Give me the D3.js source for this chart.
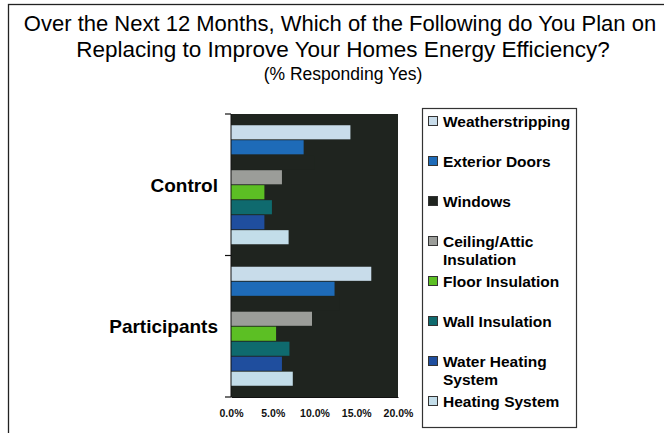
<!DOCTYPE html>
<html>
<head>
<meta charset="utf-8">
<script src="https://cdn.jsdelivr.net/npm/d3@7"></script>
<style>
body { margin: 0; background: #fff; }
text { font-family: "Liberation Sans", Arial, sans-serif; }
</style>
</head>
<body>
<script>
// Daten
var groups = ["Control", "Participants"];
var series = ["Weatherstripping", "Exterior Doors", "Windows", "Ceiling/Attic Insulation",
  "Floor Insulation", "Wall Insulation", "Water Heating System", "Heating System"];
var legendLines = [["Weatherstripping"], ["Exterior Doors"], ["Windows"], ["Ceiling/Attic", "Insulation"],
  ["Floor Insulation"], ["Wall Insulation"], ["Water Heating", "System"], ["Heating System"]];
var controlValues = [14.3, 8.7, 10.0, 6.1, 4.0, 4.9, 4.0, 6.9];
var participantValues = [16.8, 12.4, 13.0, 9.7, 5.4, 7.0, 6.1, 7.4];
var colors = ["#c8dcea", "#1e6bb8", "#1f241f", "#9b9d99", "#5cbf24", "#0f6a6e", "#1f4e9e", "#c3dde9"];
var xTicks = [0, 5, 10, 15, 20];

var W = 664, H = 433;
var plot = {left: 231, right: 398, top: 114, bottom: 397};

var svg = d3.select("body").append("svg")
  .attr("width", W).attr("height", H);

svg.append("rect").attr("width", W).attr("height", H).attr("fill", "#fff");

// Rahmen
svg.append("rect")
  .attr("x", 8.5).attr("y", 4.5).attr("width", 700).attr("height", 460)
  .attr("fill", "none").attr("stroke", "#222").attr("stroke-width", 1.3);

// Titel
var title = svg.append("g").attr("text-anchor", "middle");
title.append("text").attr("x", 340).attr("y", 31).attr("font-size", 22)
  .text("Over the Next 12 Months, Which of the Following do You Plan on");
title.append("text").attr("x", 343).attr("y", 57).attr("font-size", 22.5)
  .text("Replacing to Improve Your Homes Energy Efficiency?");
title.append("text").attr("x", 343).attr("y", 80).attr("font-size", 17.5)
  .text("(% Responding Yes)");

// Skalen
var xScale = d3.scaleLinear().domain([0, 20]).range([plot.left, plot.right]);
var yScale = d3.scaleBand().domain(groups).range([plot.top, plot.bottom]);
var ySub = d3.scaleBand().domain(series).range([0, yScale.bandwidth()])
  .paddingInner(0.06).paddingOuter(0.75);

// Hintergrund Plot
svg.append("rect")
  .attr("x", plot.left).attr("y", plot.top)
  .attr("width", plot.right - plot.left).attr("height", plot.bottom - plot.top)
  .attr("fill", "#1f241f");

var data = [];
groups.forEach(function (g, gi) {
  var vals = gi === 0 ? controlValues : participantValues;
  series.forEach(function (s, si) {
    data.push({group: g, series: s, value: vals[si], color: colors[si]});
  });
});

svg.append("g").selectAll("rect")
  .data(data).join("rect")
  .attr("x", xScale(0))
  .attr("y", function (d) { return yScale(d.group) + ySub(d.series); })
  .attr("width", function (d) { return xScale(d.value) - xScale(0); })
  .attr("height", ySub.bandwidth())
  .attr("fill", function (d) { return d.color; });

// Y Achse
var yAxis = svg.append("g").attr("transform", "translate(" + plot.left + ",0)");
yAxis.append("line").attr("x1", 0).attr("x2", 0).attr("y1", plot.top).attr("y2", plot.bottom)
  .attr("stroke", "#111");
var bounds = [plot.top].concat(groups.map(function (g) { return yScale(g) + yScale.bandwidth(); }));
yAxis.selectAll(".tk").data(bounds).join("line")
  .attr("x1", -6).attr("x2", 0)
  .attr("y1", function (d) { return d; }).attr("y2", function (d) { return d; })
  .attr("stroke", "#111").attr("stroke-width", 1.2);
yAxis.selectAll(".lbl").data(groups).join("text")
  .attr("x", -13)
  .attr("y", function (d) { return yScale(d) + yScale.bandwidth() / 2 + 7; })
  .attr("text-anchor", "end").attr("font-size", 19).attr("font-weight", "bold")
  .text(function (d) { return d; });

// X Achse
var xAxis = svg.append("g")
  .attr("transform", "translate(0," + plot.bottom + ")")
  .call(d3.axisBottom(xScale).tickValues(xTicks).tickSize(0).tickPadding(13)
    .tickFormat(function (d) { return d.toFixed(1) + "%"; }));
xAxis.select(".domain").attr("stroke", "#111");
xAxis.selectAll("text").attr("font-size", 10.5).attr("font-weight", "bold")
  .attr("font-family", "'Liberation Sans', Arial, sans-serif").attr("fill", "#111");

// Legende
var legend = svg.append("g");
legend.append("rect")
  .attr("x", 422.5).attr("y", 108.5).attr("width", 154).attr("height", 319)
  .attr("fill", "#fff").attr("stroke", "#333").attr("stroke-width", 1.2);
var item = legend.selectAll(".item").data(series).join("g")
  .attr("transform", function (d, i) { return "translate(428," + (121 + i * 40) + ")"; });
item.append("rect")
  .attr("x", 0.5).attr("y", -4.5).attr("width", 9).attr("height", 9)
  .attr("fill", function (d, i) { return colors[i]; })
  .attr("stroke", "#333").attr("stroke-width", 1);
item.append("text")
  .attr("x", 15).attr("y", 5.5)
  .attr("font-size", 15.5).attr("font-weight", "bold")
  .selectAll("tspan").data(function (d, i) { return legendLines[i]; }).join("tspan")
  .attr("x", 15).attr("dy", function (d, i) { return i === 0 ? 0 : 18; })
  .text(function (d) { return d; });
</script>
</body>
</html>
